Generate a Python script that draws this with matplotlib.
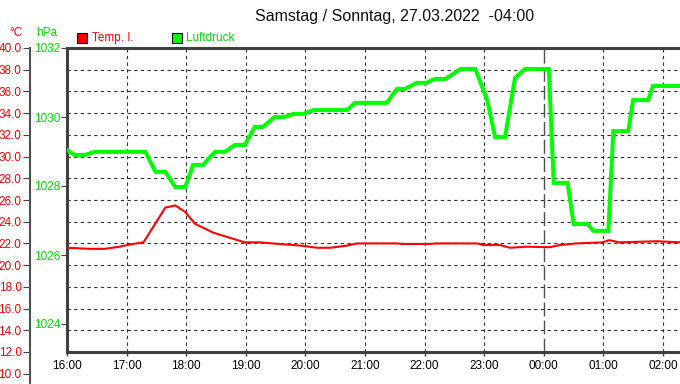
import numpy as np
import matplotlib.pyplot as plt
from matplotlib.patches import Rectangle

plt.rcParams['font.family'] = ['Liberation Sans', 'DejaVu Sans']

# --- data ---
press_time = ["16:00", "16:08", "16:18", "16:28", "17:19", "17:29", "17:39", "17:49", "17:59",
              "18:07", "18:17", "18:29", "18:39", "18:49", "18:59", "19:09", "19:17", "19:29",
              "19:39", "19:48", "19:58", "20:08", "20:42", "20:50", "21:22", "21:32", "21:40",
              "21:52", "22:02", "22:10", "22:21", "22:36", "22:51", "23:03", "23:11", "23:21",
              "23:31", "23:41", "00:05", "00:10", "00:24", "00:30", "00:44", "00:50", "01:05",
              "01:10", "01:25", "01:30", "01:45", "01:50", "02:17"]
press = [1029.04, 1028.90, 1028.90, 1028.99, 1028.99, 1028.41, 1028.41, 1027.97, 1027.97,
         1028.61, 1028.61, 1028.99, 1028.99, 1029.19, 1029.19, 1029.71, 1029.71, 1030.00,
         1030.00, 1030.09, 1030.09, 1030.20, 1030.20, 1030.41, 1030.41, 1030.81, 1030.81,
         1030.99, 1030.99, 1031.10, 1031.10, 1031.39, 1031.39, 1030.50, 1029.42, 1029.42,
         1031.13, 1031.39, 1031.39, 1028.09, 1028.09, 1026.90, 1026.90, 1026.70, 1026.70,
         1029.59, 1029.59, 1030.49, 1030.49, 1030.90, 1030.90]

temp_time = ["16:00", "16:23", "16:38", "16:53", "17:03", "17:17", "17:39", "17:49", "17:59",
             "18:09", "18:27", "18:41", "18:59", "19:14", "19:27", "19:34", "19:55", "20:12",
             "20:25", "20:42", "20:52", "21:32", "21:38", "22:05", "22:12", "22:53", "22:59",
             "23:16", "23:26", "23:43", "00:06", "00:16", "00:33", "00:59", "01:06", "01:16",
             "01:54", "02:17"]
temp = [21.6, 21.5, 21.5, 21.7, 21.9, 22.1, 25.3, 25.5, 24.9,
        23.8, 23.0, 22.6, 22.1, 22.1, 22.0, 21.95, 21.8, 21.6,
        21.6, 21.8, 22.0, 22.0, 21.95, 21.95, 22.0, 22.0, 21.85,
        21.85, 21.6, 21.7, 21.65, 21.85, 22.0, 22.1, 22.3, 22.1,
        22.2, 22.1]

hour_labels = ["16:00", "17:00", "18:00", "19:00", "20:00", "21:00", "22:00", "23:00",
               "00:00", "01:00", "02:00"]
temp_ticks = [40.0, 38.0, 36.0, 34.0, 32.0, 30.0, 28.0, 26.0, 24.0, 22.0, 20.0, 18.0,
              16.0, 14.0, 12.0, 10.0]
press_ticks = [1024, 1026, 1028, 1030, 1032]

title = "Samstag / Sonntag, 27.03.2022  -04:00"


def to_hours(tt):
    '''hours after 16:00, wrapping past midnight'''
    out = []
    for t in tt:
        hh, mm = t.split(':')
        h = int(hh) + int(mm) / 60.0
        if h < 12:
            h = h + 24
        out.append(h - 16)
    return np.array(out)


W, H = 680, 384
fig = plt.figure(figsize=(6.8, 3.84), dpi=100)
fig.patch.set_facecolor('white')

# plot area in pixels: x 67..680, y 48..352
x0, x1, y0, y1 = 67, 680, 48, 352
ax = fig.add_axes([x0 / W, 1 - y1 / H, (x1 - x0) / W, (y1 - y0) / H])
xmax = (x1 - x0) / 59.6
ax.set_xlim(0, xmax)
ax.set_ylim(12, 40)

spine_c = '#404040'
for s in ['right']:
    ax.spines[s].set_visible(False)
for s in ['top', 'bottom', 'left']:
    ax.spines[s].set_linewidth(2.2)
    ax.spines[s].set_color(spine_c)

# grid
for v in np.arange(14, 39, 2):
    ax.axhline(v, color='#303030', lw=0.8, dashes=(3, 3), zorder=1)
for i in range(1, len(hour_labels)):
    if hour_labels[i] == "00:00":
        ax.axvline(i, color='#505050', lw=1.0, dashes=(10, 3), zorder=1)
    else:
        ax.axvline(i, color='#303030', lw=0.8, dashes=(3, 3), zorder=1)

ax.set_yticks([])
ax.set_xticks(range(len(hour_labels)))
ax.set_xticklabels(hour_labels, fontsize=8.5)
ax.tick_params(axis='x', length=3, width=1, color=spine_c, pad=3)

ax.plot(to_hours(temp_time), temp, color='#ff0000', lw=1.5, zorder=3)

# pressure axis
ax2 = ax.twinx()
ax2.set_ylim(1032 - (y1 - y0) / 34.5, 1032)
ax2.plot(to_hours(press_time), press, color='#00ff00', lw=2.9, zorder=4,
         solid_joinstyle='miter')
for s in ax2.spines.values():
    s.set_visible(False)
ax2.yaxis.tick_left()
ax2.set_yticks(press_ticks)
ax2.set_yticklabels([str(p) for p in press_ticks], fontsize=8.5, color='#00dd00')
ax2.tick_params(axis='y', length=4, width=0.8, color='#404040', pad=1)

# temperature axis, separate and longer than plot area
tb = (y1 - y0) / 28.0
ax3 = fig.add_axes([30 / W, 0, 0.0001, 1 - y0 / H])
ax3.set_ylim(40 - (H - y0) / tb, 40)
ax3.set_xticks([])
for s in ['top', 'bottom', 'right']:
    ax3.spines[s].set_visible(False)
ax3.spines['left'].set_linewidth(1.5)
ax3.spines['left'].set_color('#505050')
ax3.set_yticks(temp_ticks)
ax3.set_yticklabels(['{:.1f}'.format(t) for t in temp_ticks], fontsize=8.5, color='#ff0000')
ax3.tick_params(axis='y', length=5, width=0.8, color='#404040', pad=1)
ax3.patch.set_alpha(0)

# units
fig.text(16 / W, 1 - 33 / H, '°C', color='#ff0000', fontsize=8.5, ha='center', va='center')
fig.text(47 / W, 1 - 33 / H, 'hPa', color='#00dd00', fontsize=8.5, ha='center', va='center')

# legend
fig.patches.append(Rectangle((77 / W, 1 - 43 / H), 10 / W, 10 / H, transform=fig.transFigure,
                             facecolor='#ff0000', edgecolor='black', lw=0.8))
fig.text(92 / W, 1 - 38 / H, 'Temp. I.', color='#ff0000', fontsize=8.5, va='center')
fig.patches.append(Rectangle((172 / W, 1 - 43 / H), 10 / W, 10 / H, transform=fig.transFigure,
                             facecolor='#00ff00', edgecolor='black', lw=0.8))
fig.text(186 / W, 1 - 38 / H, 'Luftdruck', color='#00dd00', fontsize=8.5, va='center')

fig.text(395 / W, 1 - 16 / H, title, fontsize=11.5, ha='center', va='center', color='#101010')

fig.savefig('out.png', dpi=100)
